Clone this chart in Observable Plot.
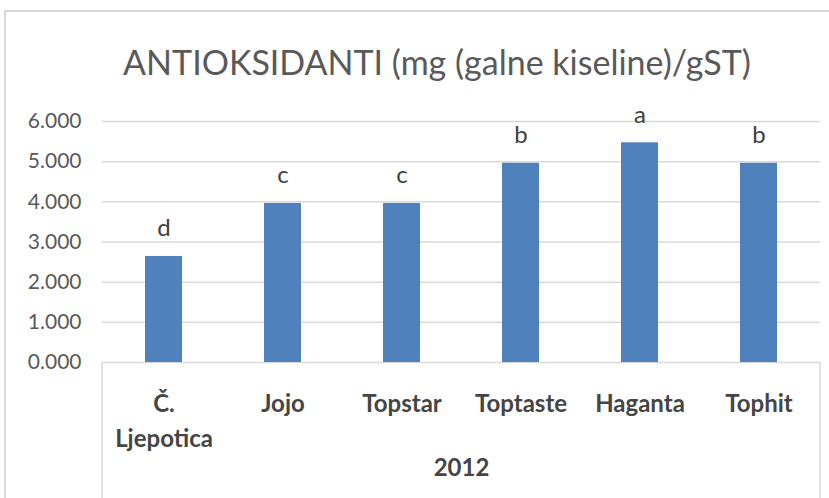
<!DOCTYPE html>
<html><head><meta charset="utf-8">
<script src="https://cdn.jsdelivr.net/npm/d3@7"></script>
<script src="https://cdn.jsdelivr.net/npm/@observablehq/plot@0.6"></script>
<style>
body{margin:0;background:#fff;}
#wrap{position:relative;width:829px;height:498px;overflow:hidden;font-family:Lato,sans-serif;}
#frame{position:absolute;left:4px;top:10px;width:900px;height:600px;border-top:2px solid #d9d9d9;border-left:2px solid #d9d9d9;}
#title{position:absolute;top:45px;left:0;width:874px;text-align:center;font-size:34px;line-height:1;color:#595959;white-space:nowrap;}
#chart{position:absolute;left:0;top:0;}
</style></head><body>
<div id="wrap"><div id="frame"></div><div id="chart"></div><div id="title">ANTIOKSIDANTI (mg (galne kiseline)/gST)</div></div>
<script>
const categories = ["Č.\nLjepotica","Jojo","Topstar","Toptaste","Haganta","Tophit"];
const values = [2.64,3.96,3.96,4.96,5.47,4.96];
const letters = ["d","c","c","b","a","b"];
const yTicks = [0,1,2,3,4,5,6];
const groupLabel = "2012";

const data = categories.map((c,i)=>({cat:c, value:values[i], letter:letters[i]}));
const W = 829, H = 498;
const plot = Plot.plot({
  width: W, height: H,
  marginTop: 121, marginBottom: 136, marginLeft: 102, marginRight: 9,
  style: {fontFamily: "Lato, sans-serif", background: "transparent", overflow: "visible"},
  x: {domain: categories, paddingInner: 0.69, paddingOuter: 0.345, label: null},
  y: {domain: [0, 6], ticks: yTicks, label: null},
  marks: [
    Plot.gridY(yTicks, {stroke: "#d9d9d9", strokeOpacity: 1, strokeWidth: 1.5}),
    Plot.barY(data, {x: "cat", y: "value", fill: "#4f81bd"}),
    Plot.text(data, {x: "cat", y: "value", text: "letter", dy: -20, lineAnchor: "bottom", fontSize: 24, fill: "#404040"}),
    Plot.axisY(yTicks, {tickSize: 0, tickPadding: 21, tickFormat: d3.format(".3f"), fontSize: 21, fill: "#595959", label: null}),
    Plot.axisX({tickSize: 0, tickPadding: 25, fontSize: 24, fontWeight: "bold", fill: "#454545", lineHeight: 1.46, label: null}),
    Plot.text([groupLabel], {frameAnchor: "bottom", dy: 113, fontSize: 24, fontWeight: "bold", fill: "#454545"})
  ]
});
const xs = plot.scale("x"), ys = plot.scale("y");
d3.select(plot).append("g").selectAll("line").data(xs.range).join("line")
  .attr("x1", d => d).attr("x2", d => d)
  .attr("y1", ys.apply(0)).attr("y2", H)
  .attr("stroke", "#d9d9d9").attr("stroke-width", 1.5);
document.getElementById("chart").append(plot);
</script>
</body></html>
